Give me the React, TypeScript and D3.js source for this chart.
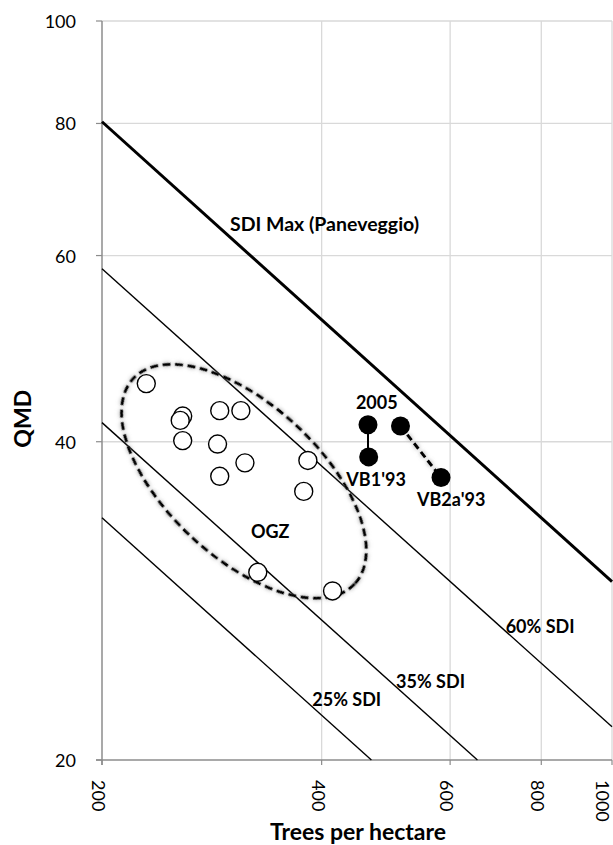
import * as d3 from "d3";

// Open circles: old-growth zone (OGZ) stands
const ogzTrees = [230, 258, 256, 290, 310, 258, 288, 314, 290, 383, 378, 327, 414];
const ogzQmd = [45.4, 42.3, 41.9, 42.8, 42.8, 40.1, 39.8, 38.2, 37.1, 38.4, 35.9, 30.1, 28.9];

// Filled circles: VB plots in 1993 and 2005
const vbNames = ["VB1", "VB2a"];
const vbTrees1993 = [464, 583];
const vbQmd1993 = [38.7, 37.0];
const vbTrees2005 = [463, 513];
const vbQmd2005 = [41.5, 41.4];

// SDI reference lines (end points)
const sdiNames = ["max", "60", "35", "25"];
const sdiTrees = [[200, 1000], [200, 1000], [200, 654], [200, 468]];
const sdiQmd = [[80.3, 29.5], [58.3, 21.5], [41.7, 20], [33.9, 20]];

const xTicks = [200, 400, 600, 800, 1000];
const yTicks = [20, 40, 60, 80, 100];

// text annotations [label, trees, qmd, anchor, size]
const notes: [string, number, number, string, number][] = [
  ["SDI Max (Paneveggio)", 299.5, 63.3, "start", 19.5],
  ["2005", 476, 43.0, "middle", 18],
  ["VB1'93", 475, 36.3, "middle", 18],
  ["VB2a'93", 602, 34.8, "middle", 18],
  ["OGZ", 340, 32.4, "middle", 18],
  ["60% SDI", 797, 26.4, "middle", 18],
  ["35% SDI", 564, 23.4, "middle", 18],
  ["25% SDI", 433, 22.5, "middle", 18],
];

const W = 613;
const H = 845;
const margin = { left: 102, right: 1, top: 21, bottom: 85 };

export default function App() {
  const x = d3.scaleLog().domain([200, 1000]).range([margin.left, W - margin.right]);
  const y = d3.scaleLog().domain([20, 100]).range([H - margin.bottom, margin.top]);
  const line = d3
    .line<[number, number]>()
    .x((d) => x(d[0]))
    .y((d) => y(d[1]));

  const font = "Lato, 'Open Sans', sans-serif";
  const axisColor = "#8c8c8c";
  const gridColor = "#d9d9d9";
  const x0 = x(200);
  const y0 = y(20);

  // OGZ ellipse, centred in data space
  const ecx = x(313);
  const ecy = y(36.7);

  return (
    <svg
      width={W}
      height={H}
      style={{ position: "absolute", left: 0, top: 0, background: "#fff" }}
      fontFamily={font}
    >
      <defs>
        <filter id="glow" x="-20%" y="-20%" width="140%" height="140%">
          <feGaussianBlur in="SourceAlpha" stdDeviation="2.2" result="blur" />
          <feFlood floodColor="#808080" floodOpacity="0.8" />
          <feComposite in2="blur" operator="in" result="shadow" />
          <feMerge>
            <feMergeNode in="shadow" />
            <feMergeNode in="SourceGraphic" />
          </feMerge>
        </filter>
      </defs>

      {/* grid */}
      {xTicks.slice(1).map((t) => (
        <line key={"gx" + t} x1={x(t)} x2={x(t)} y1={y(100)} y2={y0} stroke={gridColor} strokeWidth={1.3} />
      ))}
      {yTicks.slice(1).map((t) => (
        <line key={"gy" + t} x1={x0} x2={x(1000)} y1={y(t)} y2={y(t)} stroke={gridColor} strokeWidth={1.3} />
      ))}

      {/* axes */}
      <line x1={x0} x2={x0} y1={y(100)} y2={y0 + 5} stroke={axisColor} strokeWidth={1.5} />
      <line x1={x0 - 6} x2={x(1000)} y1={y0} y2={y0} stroke={axisColor} strokeWidth={1.5} />
      {yTicks.map((t) => (
        <g key={"yt" + t}>
          <line x1={x0 - 6} x2={x0} y1={y(t)} y2={y(t)} stroke={axisColor} strokeWidth={1.2} />
          <text x={x0 - 26} y={y(t)} textAnchor="end" dominantBaseline="central" fontSize={18} fill="#000">
            {t}
          </text>
        </g>
      ))}
      {xTicks.map((t) => (
        <g key={"xt" + t}>
          <line x1={x(t)} x2={x(t)} y1={y0} y2={y0 + 5} stroke={axisColor} strokeWidth={1.2} />
          <text
            transform={`translate(${Math.min(x(t) - 3, W - 10)},${y0 + 20}) rotate(90)`}
            textAnchor="start"
            dominantBaseline="central"
            fontSize={18}
            fill="#000"
          >
            {t}
          </text>
        </g>
      ))}
      <text x={358} y={840} textAnchor="middle" fontSize={23} fontWeight="bold">
        Trees per hectare
      </text>
      <text transform={`translate(31,${y(40) - 23}) rotate(-90)`} textAnchor="middle" fontSize={23} fontWeight="bold">
        QMD
      </text>

      {/* SDI lines */}
      {sdiNames.map((n, i) => (
        <path
          key={"sdi" + n}
          d={line([
            [sdiTrees[i][0], sdiQmd[i][0]],
            [sdiTrees[i][1], sdiQmd[i][1]],
          ]) as string}
          fill="none"
          stroke="#000"
          strokeWidth={n === "max" ? 3 : 1.4}
        />
      ))}

      {/* OGZ ellipse */}
      <ellipse
        cx={ecx}
        cy={ecy}
        rx={151}
        ry={76.5}
        transform={`rotate(42.8 ${ecx} ${ecy})`}
        fill="none"
        stroke="#000"
        strokeWidth={3}
        strokeDasharray="8,4.5"
        filter="url(#glow)"
      />

      {/* VB connectors */}
      {vbNames.map((n, i) => (
        <line
          key={"c" + n}
          x1={x(vbTrees2005[i])}
          y1={y(vbQmd2005[i])}
          x2={x(vbTrees1993[i])}
          y2={y(vbQmd1993[i])}
          stroke="#000"
          strokeWidth={3}
          strokeDasharray={i === 0 ? "none" : "7,4"}
          filter="url(#glow)"
        />
      ))}

      {/* OGZ points */}
      {ogzTrees.map((t, i) => (
        <circle key={"o" + i} cx={x(t)} cy={y(ogzQmd[i])} r={9} fill="#fff" stroke="#000" strokeWidth={1.4} />
      ))}

      {/* VB points */}
      {vbNames.map((n, i) => (
        <g key={"vb" + n}>
          <circle cx={x(vbTrees1993[i])} cy={y(vbQmd1993[i])} r={9.5} fill="#000" />
          <circle cx={x(vbTrees2005[i])} cy={y(vbQmd2005[i])} r={9.5} fill="#000" />
        </g>
      ))}

      {/* annotations */}
      {notes.map(([label, t, q, anchor, size]) => (
        <text key={label} x={x(t)} y={y(q)} textAnchor={anchor as any} fontSize={size} fontWeight="bold" fill="#000">
          {label}
        </text>
      ))}
    </svg>
  );
}
